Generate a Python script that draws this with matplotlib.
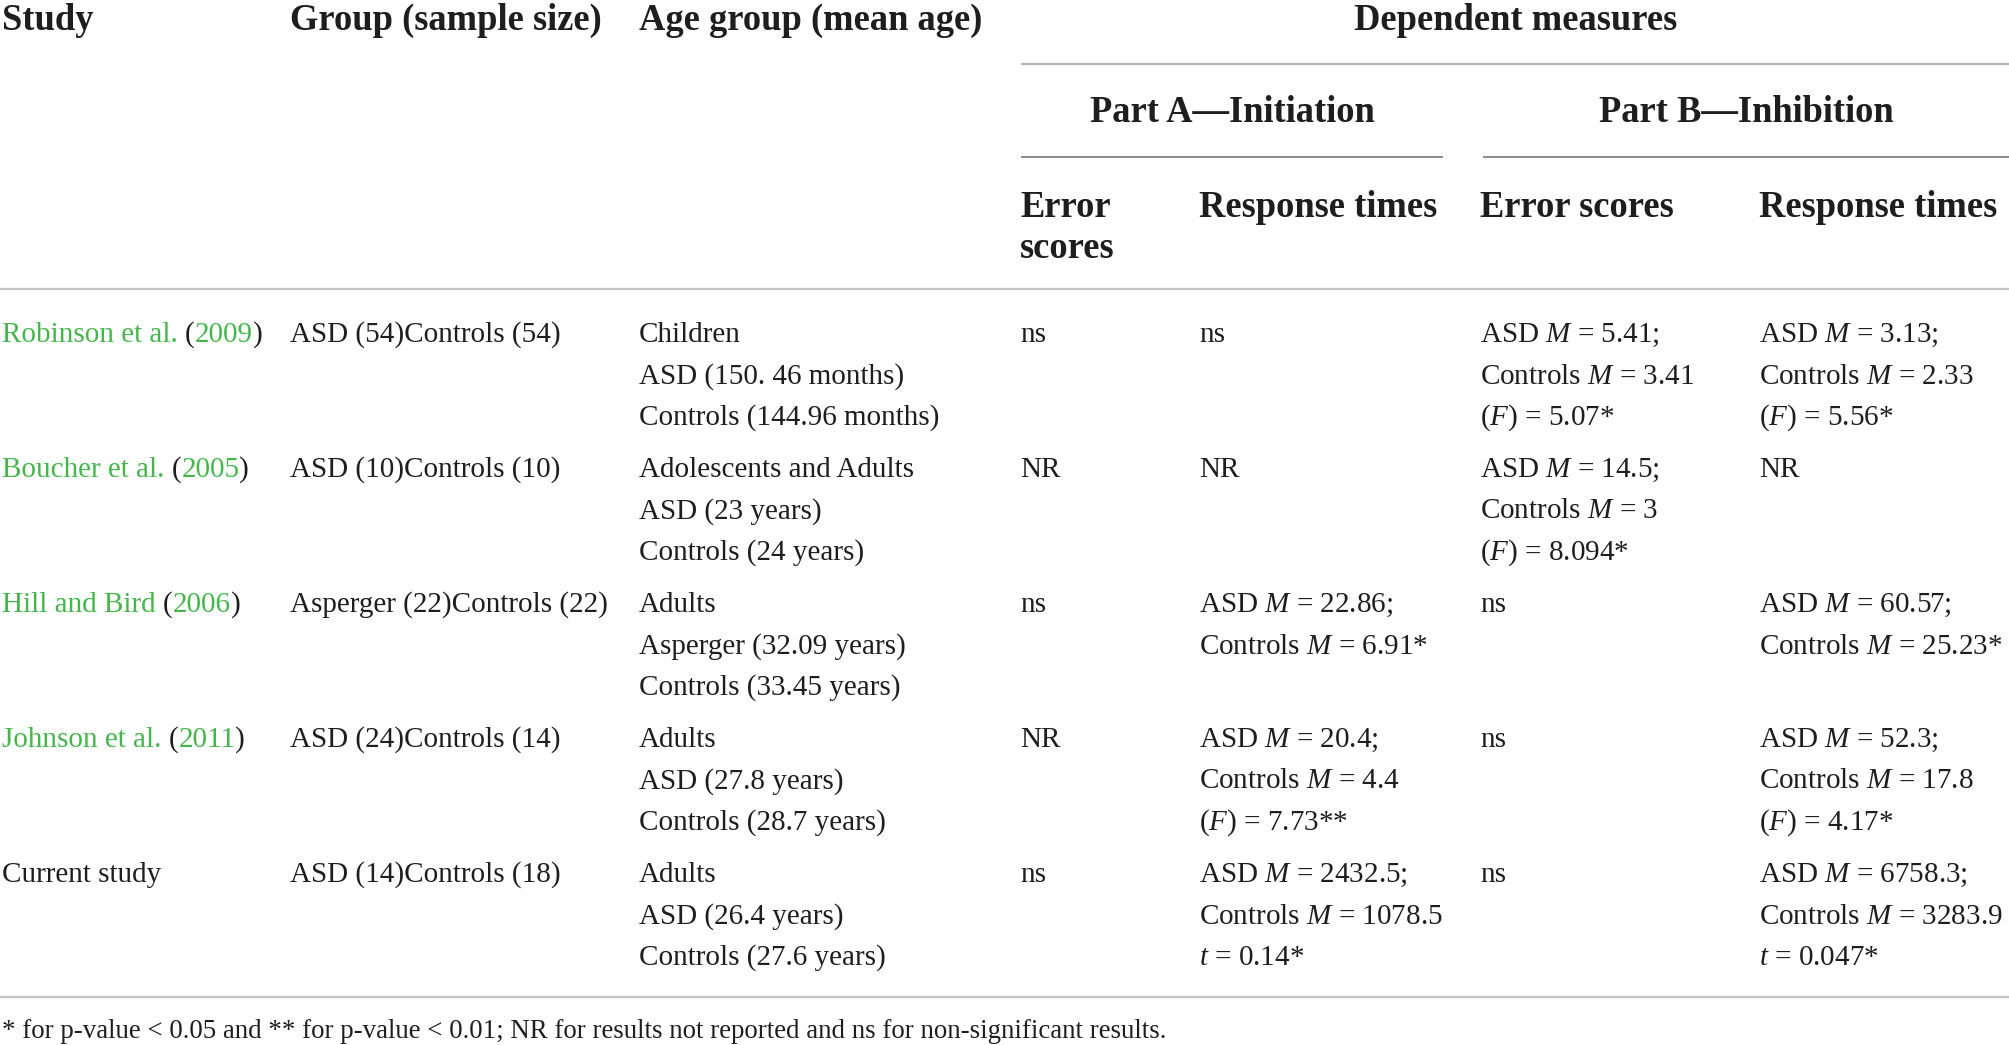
import matplotlib
matplotlib.use("Agg")
import matplotlib.pyplot as plt

plt.rcParams['font.family'] = ['Liberation Serif', 'DejaVu Serif']
plt.rcParams['mathtext.fontset'] = 'custom'
plt.rcParams['mathtext.rm'] = 'Liberation Serif'
plt.rcParams['mathtext.it'] = 'Liberation Serif:italic'

# table content
headers = ["Study", "Group (sample size)", "Age group (mean age)"]
sub_headers = [["Error", "scores"], ["Response times"], ["Error scores"], ["Response times"]]
parts = ["Part A\u2014Initiation", "Part B\u2014Inhibition"]

studies = ["Robinson et al.", "Boucher et al.", "Hill and Bird", "Johnson et al.", "Current study"]
years = ["2009", "2005", "2006", "2011", None]
groups = ["ASD (54)Controls (54)", "ASD (10)Controls (10)", "Asperger (22)Controls (22)",
          "ASD (24)Controls (14)", "ASD (14)Controls (18)"]
age_groups = [["Children", "ASD (150. 46 months)", "Controls (144.96 months)"],
              ["Adolescents and Adults", "ASD (23 years)", "Controls (24 years)"],
              ["Adults", "Asperger (32.09 years)", "Controls (33.45 years)"],
              ["Adults", "ASD (27.8 years)", "Controls (28.7 years)"],
              ["Adults", "ASD (26.4 years)", "Controls (27.6 years)"]]
a_errors = [["ns"], ["NR"], ["ns"], ["NR"], ["ns"]]
a_times = [["ns"], ["NR"],
           ["ASD $M$ = 22.86;", "Controls $M$ = 6.91*"],
           ["ASD $M$ = 20.4;", "Controls $M$ = 4.4", "($F$) = 7.73**"],
           ["ASD $M$ = 2432.5;", "Controls $M$ = 1078.5", "$t$ = 0.14*"]]
b_errors = [["ASD $M$ = 5.41;", "Controls $M$ = 3.41", "($F$) = 5.07*"],
            ["ASD $M$ = 14.5;", "Controls $M$ = 3", "($F$) = 8.094*"],
            ["ns"], ["ns"], ["ns"]]
b_times = [["ASD $M$ = 3.13;", "Controls $M$ = 2.33", "($F$) = 5.56*"],
           ["NR"],
           ["ASD $M$ = 60.57;", "Controls $M$ = 25.23*"],
           ["ASD $M$ = 52.3;", "Controls $M$ = 17.8", "($F$) = 4.17*"],
           ["ASD $M$ = 6758.3;", "Controls $M$ = 3283.9", "$t$ = 0.047*"]]
footnote = ("* for p-value < 0.05 and ** for p-value < 0.01; NR for results not reported "
            "and ns for non-significant results.")

W, H = 2009, 1045
TXT = '#1e1e1e'
GREEN = '#46b64c'
BODY = 21
HEAD = 26.3
FOOT = 19.4

fig = plt.figure(figsize=(W / 100, H / 100), dpi=100)
ax = fig.add_axes([0, 0, 1, 1])
ax.set_xlim(0, W)
ax.set_ylim(H, 0)
ax.axis('off')
renderer = fig.canvas.get_renderer()


def text_width(s, **kw):
    t = ax.text(0, 0, s, **kw)
    w = t.get_window_extent(renderer).width
    t.remove()
    return w


# column x positions (pixels)
col_x = [2, 290, 639, 1020, 1199, 1480, 1759]

# header
for x, h in zip(col_x[:3], headers):
    ax.text(x, 30, h, fontsize=HEAD, fontweight='bold', color=TXT, va='baseline')
ax.text(1516, 30, "Dependent measures", fontsize=HEAD, fontweight='bold', color=TXT,
        va='baseline', ha='center')
ax.hlines(64, 1021, W, color='#b4b4b4', lw=1.6)
ax.text(1232, 122, parts[0], fontsize=HEAD, fontweight='bold', color=TXT, va='baseline', ha='center')
ax.text(1746, 122, parts[1], fontsize=HEAD, fontweight='bold', color=TXT, va='baseline', ha='center')
ax.hlines(157, 1021, 1443, color='#8c8c8c', lw=1.4)
ax.hlines(157, 1483, W, color='#8c8c8c', lw=1.4)
for x, sh in zip(col_x[3:], sub_headers):
    for j, s in enumerate(sh):
        ax.text(x, 217 + j * 41, s, fontsize=HEAD, fontweight='bold', color=TXT, va='baseline')
ax.hlines(289, 0, W, color='#c4c4c4', lw=1.6)

# body
row_y0, row_step, line_step = 342, 135, 41.5
for i in range(len(studies)):
    y = row_y0 + i * row_step
    kw = dict(fontsize=BODY, va='baseline')
    x0 = col_x[0]
    if years[i] is None:
        ax.text(x0, y, studies[i], color=TXT, **kw)
    else:
        name = studies[i]
        w_open = text_width(name + " (", **kw)
        w_par = text_width("(", **kw)
        w_year = text_width(name + " (" + years[i], **kw)
        ax.text(x0, y, name, color=GREEN, **kw)
        ax.text(x0 + w_open - w_par, y, "(", color=TXT, **kw)
        ax.text(x0 + w_open, y, years[i], color=GREEN, **kw)
        ax.text(x0 + w_year, y, ")", color=TXT, **kw)
    ax.text(col_x[1], y, groups[i], color=TXT, **kw)
    cells = [age_groups[i], a_errors[i], a_times[i], b_errors[i], b_times[i]]
    for x, cell in zip(col_x[2:], cells):
        for j, s in enumerate(cell):
            ax.text(x, y + j * line_step, s, color=TXT, **kw)

ax.hlines(997, 0, W, color='#c4c4c4', lw=1.6)
ax.text(2, 1038, footnote, fontsize=FOOT, color=TXT, va='baseline')

fig.savefig("out.png", dpi=100)
